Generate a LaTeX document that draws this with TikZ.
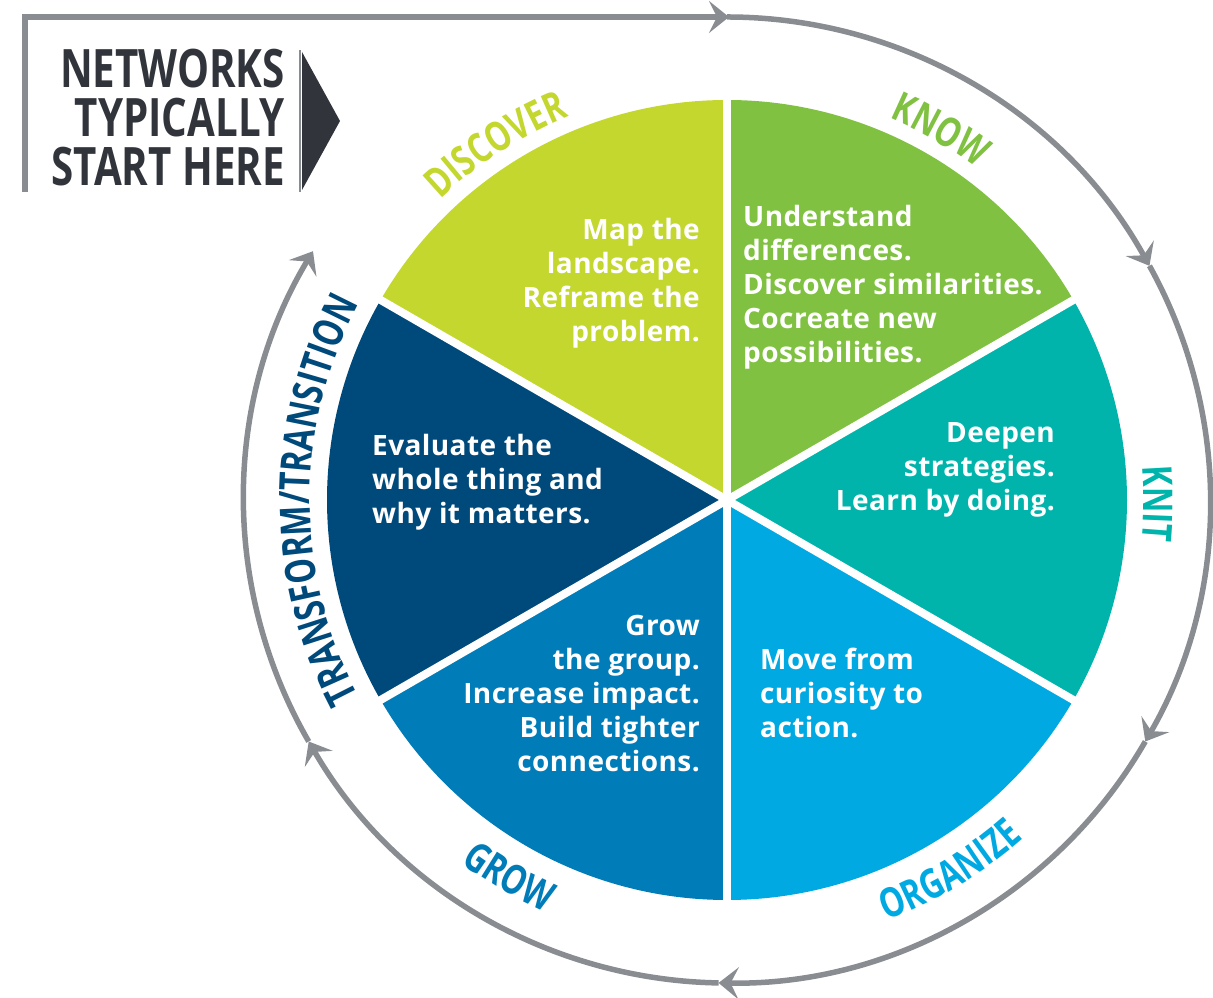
\documentclass[tikz,border=0pt]{standalone}
\usepackage{fontspec}
\setmainfont{Open Sans}
\newfontfamily\labelfont[FakeStretch=0.76]{Open Sans}
\newfontfamily\headfont[FakeStretch=0.76]{Open Sans}
\newfontfamily\bodyfont[LetterSpace=1.5]{Open Sans}
\usetikzlibrary{decorations.text,arrows.meta}
\definecolor{cdiscover}{HTML}{C4D72E}
\definecolor{cknow}{HTML}{80C142}
\definecolor{cknit}{HTML}{00B4AB}
\definecolor{corganize}{HTML}{00A9E2}
\definecolor{cgrow}{HTML}{007CB8}
\definecolor{ctransform}{HTML}{004A7B}
\definecolor{cring}{HTML}{898C91}
\definecolor{cdark}{HTML}{31343B}
\begin{document}
\begin{tikzpicture}[x=1pt,y=1pt,
  ringline/.style={draw=cring, line width=5.5pt},
  arr/.style={-{Stealth[length=20pt,width=32pt,inset=8pt]}},
  bodytext/.style={text=white, inner sep=0pt, font=\bodyfont\bfseries\fontsize{28}{34}\selectfont},
  gapline/.style={draw=white, line width=8pt}]
\useasboundingbox (0,0) rectangle (1213,998);
% frame line with start arrow
\coordinate (fstart) at (25,806);
\coordinate (fcorner) at (25,981);
\coordinate (ftop) at (729,981);
\draw[ringline, line width=6pt, arr] (fstart) -- (fcorner) -- (ftop);
% start box
\node[anchor=north east, inner sep=0pt, align=right, text=cdark,
  font=\headfont\bfseries\fontsize{53}{49}\selectfont] (start) at (285,949)
  {NETWORKS\\TYPICALLY\\START HERE};
\coordinate (ta) at (302,946);
\coordinate (tb) at (340,877);
\coordinate (tc) at (302,808);
\fill[cdark] (ta) -- (tb) -- (tc) -- cycle;
\draw[cring, line width=2pt] (300,948) -- (300,806);
\begin{scope}[shift={(727,498)}]
  \coordinate (C) at (0,0);
  % sectors
  \fill[cknow] (C) -- (30:400) arc[start angle=30, end angle=90, radius=400] -- cycle;
  \fill[cdiscover] (C) -- (90:400) arc[start angle=90, end angle=150, radius=400] -- cycle;
  \fill[ctransform] (C) -- (150:400) arc[start angle=150, end angle=210, radius=400] -- cycle;
  \fill[cgrow] (C) -- (210:400) arc[start angle=210, end angle=270, radius=400] -- cycle;
  \fill[corganize] (C) -- (270:400) arc[start angle=270, end angle=330, radius=400] -- cycle;
  \fill[cknit] (C) -- (-30:400) arc[start angle=-30, end angle=30, radius=400] -- cycle;
  \foreach \a in {30,90,150,210,270,330} \draw[gapline] (C) -- (\a:410);
  % ring
  \draw[ringline, arr] (90:483) arc[start angle=90, end angle=29, radius=483];
  \draw[ringline, arr] (29:483) arc[start angle=29, end angle=-30, radius=483];
  \draw[ringline, arr] (-30:483) arc[start angle=-30, end angle=-91, radius=483];
  \draw[ringline, arr] (-91:483) arc[start angle=-91, end angle=-150, radius=483];
  \draw[ringline, arr] (-150:483) arc[start angle=-150, end angle=-211, radius=483];
  % labels
  \path[decorate, decoration={text along path, text align=center, text color=cdiscover,
    text={|\labelfont\bfseries\fontsize{41}{41}\selectfont|DISCOVER}}]
    (151:415) arc[start angle=151, end angle=95, radius=415];
  \path[decorate, decoration={text along path, text align=center, text color=cknow,
    text={|\labelfont\bfseries\fontsize{41}{41}\selectfont|KNOW}}]
    (88:415) arc[start angle=88, end angle=32, radius=415];
  \path[decorate, decoration={text along path, text align=center, text color=cknit,
    text={|\labelfont\bfseries\fontsize{41}{41}\selectfont|KNIT}}]
    (28:417) arc[start angle=28, end angle=-29, radius=417];
  \path[decorate, decoration={text along path, text align=center, text color=corganize,
    text={|\labelfont\bfseries\fontsize{41}{41}\selectfont|ORGANIZE}}]
    (-87:450) arc[start angle=-87, end angle=-31, radius=450];
  \path[decorate, decoration={text along path, text align=center, text color=cgrow,
    text={|\labelfont\bfseries\fontsize{41}{41}\selectfont|GROW}}]
    (-148:450) arc[start angle=-148, end angle=-92, radius=450];
  \path[decorate, decoration={text along path, text align=center, text color=ctransform,
    text={|\labelfont\bfseries\fontsize{42}{42}\selectfont|TRANSFORM/TRANSITION}}]
    (217:417) arc[start angle=217, end angle=143, radius=417];
\end{scope}
% body texts
\node[bodytext, align=right, anchor=north east] (tdiscover) at (700,780)
  {Map the\\landscape.\\Reframe the\\problem.};
\node[bodytext, align=left, anchor=north west] (tknow) at (743,793)
  {Understand\\differences.\\Discover similarities.\\Cocreate new\\possibilities.};
\node[bodytext, align=right, anchor=north east] (tknit) at (1055,576)
  {Deepen\\strategies.\\Learn by doing.};
\node[bodytext, align=left, anchor=north west] (torganize) at (760,350)
  {Move from\\curiosity to\\action.};
\node[bodytext, align=right, anchor=north east] (tgrow) at (700,383)
  {Grow\\the group.\\Increase impact.\\Build tighter\\connections.};
\node[bodytext, align=left, anchor=north west] (ttransform) at (372,564)
  {Evaluate the\\whole thing and\\why it matters.};
\end{tikzpicture}
\end{document}
